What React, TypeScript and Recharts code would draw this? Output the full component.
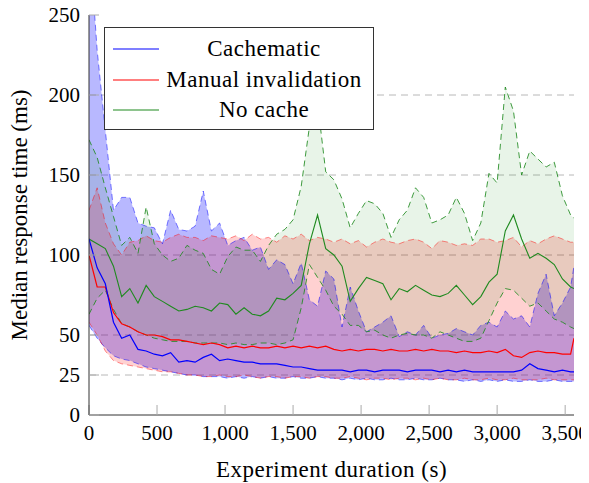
import React from 'react';
import {
  ComposedChart,
  Area,
  Line,
  XAxis,
  YAxis,
  CartesianGrid,
  Legend,
} from 'recharts';

// experiment time (s)
const times = [
  0, 60, 120, 180, 240, 300, 360, 420, 480, 540, 600, 660, 720, 780, 840, 900,
  960, 1020, 1080, 1140, 1200, 1260, 1320, 1380, 1440, 1500, 1560, 1620, 1680, 1740,
  1800, 1860, 1920, 1980, 2040, 2100, 2160, 2220, 2280, 2340, 2400, 2460, 2520, 2580, 2640,
  2700, 2760, 2820, 2880, 2940, 3000, 3060, 3120, 3180, 3240, 3300, 3360, 3420, 3480, 3540,
  3565,
];

// Cachematic
const cacheMed = [
  110, 92, 82, 58, 48, 50, 41, 40, 38, 37, 39, 33, 34, 33, 36, 38,
  34, 35, 34, 33, 33, 32, 32, 32, 31, 30, 30, 29, 28, 28,
  28, 28, 27, 28, 28, 27, 28, 28, 28, 27, 28, 28, 28, 27, 28,
  27, 28, 27, 27, 27, 27, 27, 27, 28, 32, 29, 28, 27, 28, 27,
  27,
];
const cacheHigh = [
  300, 228, 178, 128, 136, 136, 120, 118, 117, 107, 128, 116, 115, 118, 140, 115,
  120, 106, 109, 111, 103, 105, 91, 97, 94, 82, 95, 72, 68, 90,
  85, 55, 80, 65, 52, 55, 58, 62, 49, 52, 50, 56, 48, 50, 51,
  54, 52, 50, 56, 58, 55, 65, 60, 62, 55, 76, 88, 62, 70, 80,
  93,
];
const cacheLow = [
  56, 48, 42, 37, 35, 34, 32, 30, 29, 28, 27, 26, 25, 25, 24, 24,
  24, 23, 24, 23, 24, 23, 24, 23, 23, 24, 23, 23, 24, 23,
  23, 22, 23, 22, 23, 22, 22, 23, 22, 22, 23, 22, 22, 23, 22,
  22, 21, 22, 21, 22, 21, 22, 21, 21, 22, 21, 21, 22, 21, 21,
  21,
];

// Manual invalidation
const manualMed = [
  100, 80, 80, 64, 57, 55, 52, 50, 50, 49, 47, 47, 46, 45, 44, 45,
  44, 42, 43, 42, 43, 42, 42, 43, 42, 43, 42, 43, 42, 43,
  41, 40, 41, 40, 41, 41, 40, 41, 40, 40, 41, 40, 41, 40, 40,
  39, 40, 39, 39, 40, 39, 41, 37, 36, 39, 40, 39, 39, 38, 38,
  48,
];
const manualHigh = [
  128, 142, 120, 107, 100, 108, 109, 112, 109, 108, 111, 113, 111, 111, 109, 112,
  111, 110, 112, 109, 113, 110, 111, 108, 112, 110, 113, 109, 111, 110,
  108, 110, 107, 109, 105, 108, 110, 108, 107, 109, 110, 108, 104, 109, 108,
  106, 107, 106, 110, 110, 108, 109, 111, 105, 109, 107, 110, 112, 110, 108,
  108,
];
const manualLow = [
  58, 50, 40, 34, 32, 31, 30, 29, 28, 27, 27, 26, 25, 25, 24, 24,
  25, 24, 24, 25, 24, 23, 24, 24, 23, 24, 24, 23, 24, 24,
  23, 23, 24, 23, 22, 23, 23, 22, 23, 23, 22, 23, 22, 23, 22,
  22, 23, 22, 22, 23, 22, 22, 23, 22, 22, 22, 23, 22, 22, 22,
  22,
];

// No cache
const noCacheMed = [
  110, 107, 104, 93, 74, 79, 70, 81, 74, 71, 68, 65, 66, 68, 67, 65,
  70, 69, 63, 67, 63, 62, 65, 73, 72, 76, 81, 107, 125, 104,
  100, 93, 71, 79, 86, 84, 82, 72, 79, 77, 81, 78, 75, 74, 76,
  81, 75, 69, 74, 83, 88, 115, 125, 110, 98, 101, 98, 94, 85, 80,
  79,
];
const noCacheHigh = [
  172, 161, 142, 124, 106, 111, 101, 130, 107, 100, 96, 98, 106, 103, 101, 91,
  88, 99, 105, 103, 103, 96, 106, 113, 116, 122, 143, 180, 195, 152,
  147, 135, 117, 126, 134, 132, 126, 111, 122, 128, 142, 136, 120, 122, 125,
  136, 126, 109, 120, 151, 145, 205, 190, 150, 165, 160, 155, 158, 137, 125,
  123,
];
const noCacheLow = [
  63, 73, 78, 66, 57, 55, 52, 50, 48, 47, 46, 46, 46, 45, 45, 45,
  45, 44, 45, 44, 44, 45, 45, 44, 45, 47, 67, 94, 86, 78,
  68, 63, 56, 56, 52, 53, 50, 48, 50, 51, 50, 50, 48, 52, 50,
  48, 46, 46, 48, 59, 70, 79, 78, 73, 68, 70, 65, 60, 58, 55,
  54,
];

const xTicks = [0, 500, 1000, 1500, 2000, 2500, 3000, 3500];
const yTicks = [0, 25, 50, 100, 150, 200, 250];

const seriesNames = ['Cachematic', 'Manual invalidation', 'No cache'];
const BLUE = '#0000ff';
const RED = '#ff0000';
const GREEN = '#1f8a1f';

const data = times.map((t, i) => ({
  t,
  cm: cacheMed[i],
  cmHi: cacheHigh[i],
  cmLo: cacheLow[i],
  cmBand: [cacheLow[i], cacheHigh[i]],
  mi: manualMed[i],
  miHi: manualHigh[i],
  miLo: manualLow[i],
  miBand: [manualLow[i], manualHigh[i]],
  nc: noCacheMed[i],
  ncHi: noCacheHigh[i],
  ncLo: noCacheLow[i],
  ncBand: [noCacheLow[i], noCacheHigh[i]],
}));

const FONT = 'Liberation Serif, DejaVu Serif, serif';
const tickStyle = { fontFamily: FONT, fontSize: 21, fill: '#000' };

const LegendBox = () => {
  const colors = [BLUE, RED, GREEN];
  return (
    <div
      style={{
        width: 270,
        height: 103,
        boxSizing: 'border-box',
        border: '1px solid #333',
        background: '#fff',
        position: 'relative',
        fontFamily: FONT,
        fontSize: 23,
        letterSpacing: 0.5,
      }}
    >
      {seriesNames.map((name, i) => (
        <div
          key={name}
          style={{ position: 'absolute', left: 0, top: 6 + i * 30.5, height: 30, width: '100%' }}
        >
          <svg width={60} height={30} style={{ position: 'absolute', left: 0, top: 0 }}>
            <line x1={8} x2={54} y1={15} y2={15} stroke={colors[i]} strokeWidth={1.2} />
          </svg>
          <div
            style={{
              position: 'absolute',
              left: 56,
              width: 206,
              top: 0,
              lineHeight: '30px',
              textAlign: 'center',
              color: '#000',
            }}
          >
            {name}
          </div>
        </div>
      ))}
    </div>
  );
};

const fmt = (v: number) => v.toLocaleString('en-US');

export default function App() {
  // pull the chart over the body margin so it fills the whole window
  return (
    <div style={{ width: 589, height: 483, position: 'relative', margin: '-8px 0 0 -8px', fontFamily: FONT }}>
      <ComposedChart
        width={589}
        height={483}
        data={data}
        margin={{ top: 15, right: 15, bottom: 0, left: 8 }}
      >
        <CartesianGrid
          vertical={false}
          stroke="#b8b8b8"
          strokeDasharray="7 5"
          yAxisId="left"
          horizontalValues={[25, 50, 100, 150, 200]}
        />
        <XAxis
          xAxisId="bottom"
          dataKey="t"
          type="number"
          domain={[0, 3565]}
          ticks={xTicks}
          interval={0}
          tickFormatter={fmt}
          height={68}
          tickSize={-10}
          tickMargin={20}
          tick={tickStyle}
          axisLine={{ stroke: '#333' }}
          tickLine={{ stroke: '#aaa' }}
          allowDataOverflow
          label={{
            value: 'Experiment duration (s)',
            position: 'insideBottom',
            offset: 6,
            style: { fontFamily: FONT, fontSize: 23, fill: '#000', letterSpacing: 0.5 },
          }}
        />
        <XAxis
          xAxisId="top"
          orientation="top"
          dataKey="t"
          type="number"
          domain={[0, 3565]}
          ticks={xTicks}
          interval={0}
          height={0}
          tickSize={-10}
          tick={() => <g />}
          axisLine={{ stroke: '#333' }}
          tickLine={{ stroke: '#aaa' }}
          allowDataOverflow
        />
        <YAxis
          yAxisId="left"
          type="number"
          domain={[0, 250]}
          ticks={yTicks}
          interval={0}
          width={81}
          tickSize={-10}
          tickMargin={19}
          tick={tickStyle}
          axisLine={{ stroke: '#333' }}
          tickLine={{ stroke: '#aaa' }}
          allowDataOverflow
          label={{
            value: 'Median response time (ms)',
            angle: -90,
            position: 'insideLeft',
            offset: 11,
            textAnchor: 'middle',
            style: { fontFamily: FONT, fontSize: 23, fill: '#000', textAnchor: 'middle' },
          }}
        />
        <YAxis
          yAxisId="right"
          orientation="right"
          type="number"
          domain={[0, 250]}
          ticks={yTicks}
          interval={0}
          width={0}
          tickSize={-10}
          tick={() => <g />}
          axisLine={{ stroke: '#333' }}
          tickLine={{ stroke: '#aaa' }}
          allowDataOverflow
        />

        <Area xAxisId="bottom" yAxisId="left" dataKey="cmBand" type="linear" stroke="none" fill={BLUE} fillOpacity={0.28} isAnimationActive={false} activeDot={false} />
        <Area xAxisId="bottom" yAxisId="left" dataKey="miBand" type="linear" stroke="none" fill={RED} fillOpacity={0.18} isAnimationActive={false} activeDot={false} />
        <Area xAxisId="bottom" yAxisId="left" dataKey="ncBand" type="linear" stroke="none" fill="#008000" fillOpacity={0.09} isAnimationActive={false} activeDot={false} />

        <Line xAxisId="bottom" yAxisId="left" dataKey="cmHi" type="linear" stroke={BLUE} strokeOpacity={0.5} strokeDasharray="6 4" dot={false} activeDot={false} isAnimationActive={false} />
        <Line xAxisId="bottom" yAxisId="left" dataKey="cmLo" type="linear" stroke={BLUE} strokeOpacity={0.5} strokeDasharray="6 4" dot={false} activeDot={false} isAnimationActive={false} />
        <Line xAxisId="bottom" yAxisId="left" dataKey="miHi" type="linear" stroke={RED} strokeOpacity={0.45} strokeDasharray="6 4" dot={false} activeDot={false} isAnimationActive={false} />
        <Line xAxisId="bottom" yAxisId="left" dataKey="miLo" type="linear" stroke={RED} strokeOpacity={0.45} strokeDasharray="6 4" dot={false} activeDot={false} isAnimationActive={false} />
        <Line xAxisId="bottom" yAxisId="left" dataKey="ncHi" type="linear" stroke={GREEN} strokeOpacity={0.85} strokeDasharray="6 4" dot={false} activeDot={false} isAnimationActive={false} />
        <Line xAxisId="bottom" yAxisId="left" dataKey="ncLo" type="linear" stroke={GREEN} strokeOpacity={0.85} strokeDasharray="6 4" dot={false} activeDot={false} isAnimationActive={false} />

        <Line xAxisId="bottom" yAxisId="left" dataKey="nc" type="linear" stroke={GREEN} strokeWidth={1.1} dot={false} activeDot={false} isAnimationActive={false} />
        <Line xAxisId="bottom" yAxisId="left" dataKey="mi" type="linear" stroke={RED} strokeWidth={1.2} dot={false} activeDot={false} isAnimationActive={false} />
        <Line xAxisId="bottom" yAxisId="left" dataKey="cm" type="linear" stroke={BLUE} strokeWidth={1.2} dot={false} activeDot={false} isAnimationActive={false} />

        <Legend
          layout="vertical"
          align="center"
          verticalAlign="middle"
          wrapperStyle={{ top: 27, left: 104, width: 270, height: 103 }}
          content={() => <LegendBox />}
        />
      </ComposedChart>
    </div>
  );
}
